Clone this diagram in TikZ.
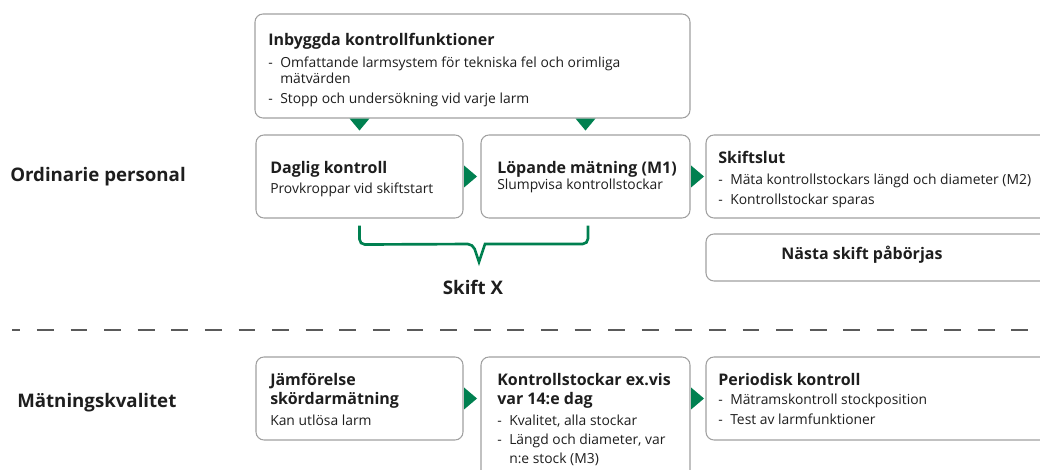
\documentclass[tikz,border=0pt]{standalone}
\usepackage{fontspec}
\setmainfont{Open Sans}
\usetikzlibrary{calc}
\definecolor{brand}{RGB}{0,128,80}
\definecolor{boxgray}{RGB}{160,160,160}
\definecolor{ink}{RGB}{30,30,30}
\definecolor{divgray}{RGB}{90,90,90}
\newcommand{\ttl}[1]{{\fontsize{12pt}{14pt}\selectfont\bfseries #1}}
\newcommand{\itm}{\makebox[9pt][l]{-}}
\newcommand{\cnt}{\hspace*{9pt}}
\tikzset{
  box/.style  = {draw=boxgray, line width=0.8pt, rounded corners=6pt, fill=white,
                 inner sep=0pt, minimum height=62.25pt},
  txt/.style  = {anchor=base west, inner sep=0pt, align=left, text=ink,
                 font=\fontsize{10.4pt}{12.75pt}\selectfont},
  lane/.style = {anchor=base west, inner sep=0pt, text=ink,
                 font=\fontsize{14pt}{16pt}\selectfont\bfseries},
  tri/.style  = {fill=brand, draw=none},
  brace/.style = {draw=brand, line width=2pt, rounded corners=4pt},
  divider/.style = {draw=divgray, line width=1.4pt, dash pattern=on 12.6pt off 12.6pt,
                 dash phase=6.5pt},
}
\begin{document}
\begin{tikzpicture}[x=0.75pt,y=-0.75pt]
  \useasboundingbox (0,0) rectangle (1040,470);
  \clip (0,0) rectangle (1040,470);
  % boxes
  \node[box, minimum width=326.25pt, minimum height=78pt] (top) at (472.5,66) {};
  \node[box, minimum width=155.25pt] (daglig)  at (359.5,176.5) {};
  \node[box, minimum width=156.75pt] (lopande) at (585.5,176.5) {};
  \node[box, minimum width=273pt]    (slut)    at (888,176.5) {};
  \node[box, minimum width=273pt, minimum height=35.25pt] (nasta) at (888,257.5) {};
  \node[box, minimum width=155.25pt] (jamf)    at (359.5,398.5) {};
  \node[box, minimum width=156.75pt, minimum height=107.25pt] (kstock) at (585.5,428.5) {};
  \node[box, minimum width=273pt]    (period)  at (888,398.5) {};
  % texts (base = last line)
  \node[txt] (toptxt) at (268,104) {\ttl{Inbyggda kontrollfunktioner}\\[3.25pt]
    \itm Omfattande larmsystem för tekniska fel och orimliga\\[-0.25pt]
    \cnt mätvärden\\[2.25pt]
    \itm Stopp och undersökning vid varje larm};
  \node[txt] (dagligtxt) at (270,194) {\ttl{Daglig kontroll}\\[2.75pt]
    Provkroppar vid skiftstart};
  \node[txt] (lopandetxt) at (497,189.3) {\ttl{Löpande mätning (M1)}\\[-0.75pt]
    Slumpvisa kontrollstockar};
  \node[txt] (sluttxt) at (718,205) {\ttl{Skiftslut}\\[3.5pt]
    \itm Mäta kontrollstockars längd och diameter (M2)\\[2.25pt]
    \itm Kontrollstockar sparas};
  \node[txt, anchor=base] (nastatxt) at (862,260) {\ttl{Nästa skift påbörjas}};
  \node[txt] (jamftxt) at (270,426) {\ttl{Jämförelse}\\[1.5pt]
    \ttl{skördarmätning}\\[3pt]
    Kan utlösa larm};
  \node[txt] (kstocktxt) at (497,463.3) {\ttl{Kontrollstockar ex.vis}\\[1.5pt]
    \ttl{var 14:e dag}\\[3pt]
    \itm Kvalitet, alla stockar\\[1.5pt]
    \itm Längd och diameter, var\\[1pt]
    \cnt n:e stock (M3)};
  \node[txt] (periodtxt) at (718,425) {\ttl{Periodisk kontroll}\\[1.5pt]
    \itm Mätramskontroll stockposition\\[2.25pt]
    \itm Test av larmfunktioner};
  % lanes
  \node[lane] (ord)  at (10,181.7) {Ordinarie personal};
  \node[lane] (matq) at (17,408) {Mätningskvalitet};
  \coordinate (divl) at (12,330);
  \coordinate (divr) at (1030,330);
  \draw[divider] (divl) -- (divr);
  % triangles
  \foreach \b in {daglig,lopande}
    \fill[tri] (\b.north |- top.south) ++(-10,0) -- ++(20,0) -- ++(-10,12) -- cycle;
  \foreach \a/\r in {daglig/daglig,lopande/daglig,jamf/jamf,kstock/jamf}
    \fill[tri] (\a.east |- \r.east) ++(0.5,-11) -- ++(13,11) -- ++(-13,11) -- cycle;
  % brace
  \draw[brace] ($(daglig.south)+(0,7)$) -- ++(0,19) -- (473,244)
    [sharp corners] -- (479,262) -- (485,244) [rounded corners=4pt] -- (588,244)
    -- ($(lopande.south)+(2.5,7)$);
  \node[lane, anchor=base] (skift) at (473,295) {Skift X};
\end{tikzpicture}
\end{document}
